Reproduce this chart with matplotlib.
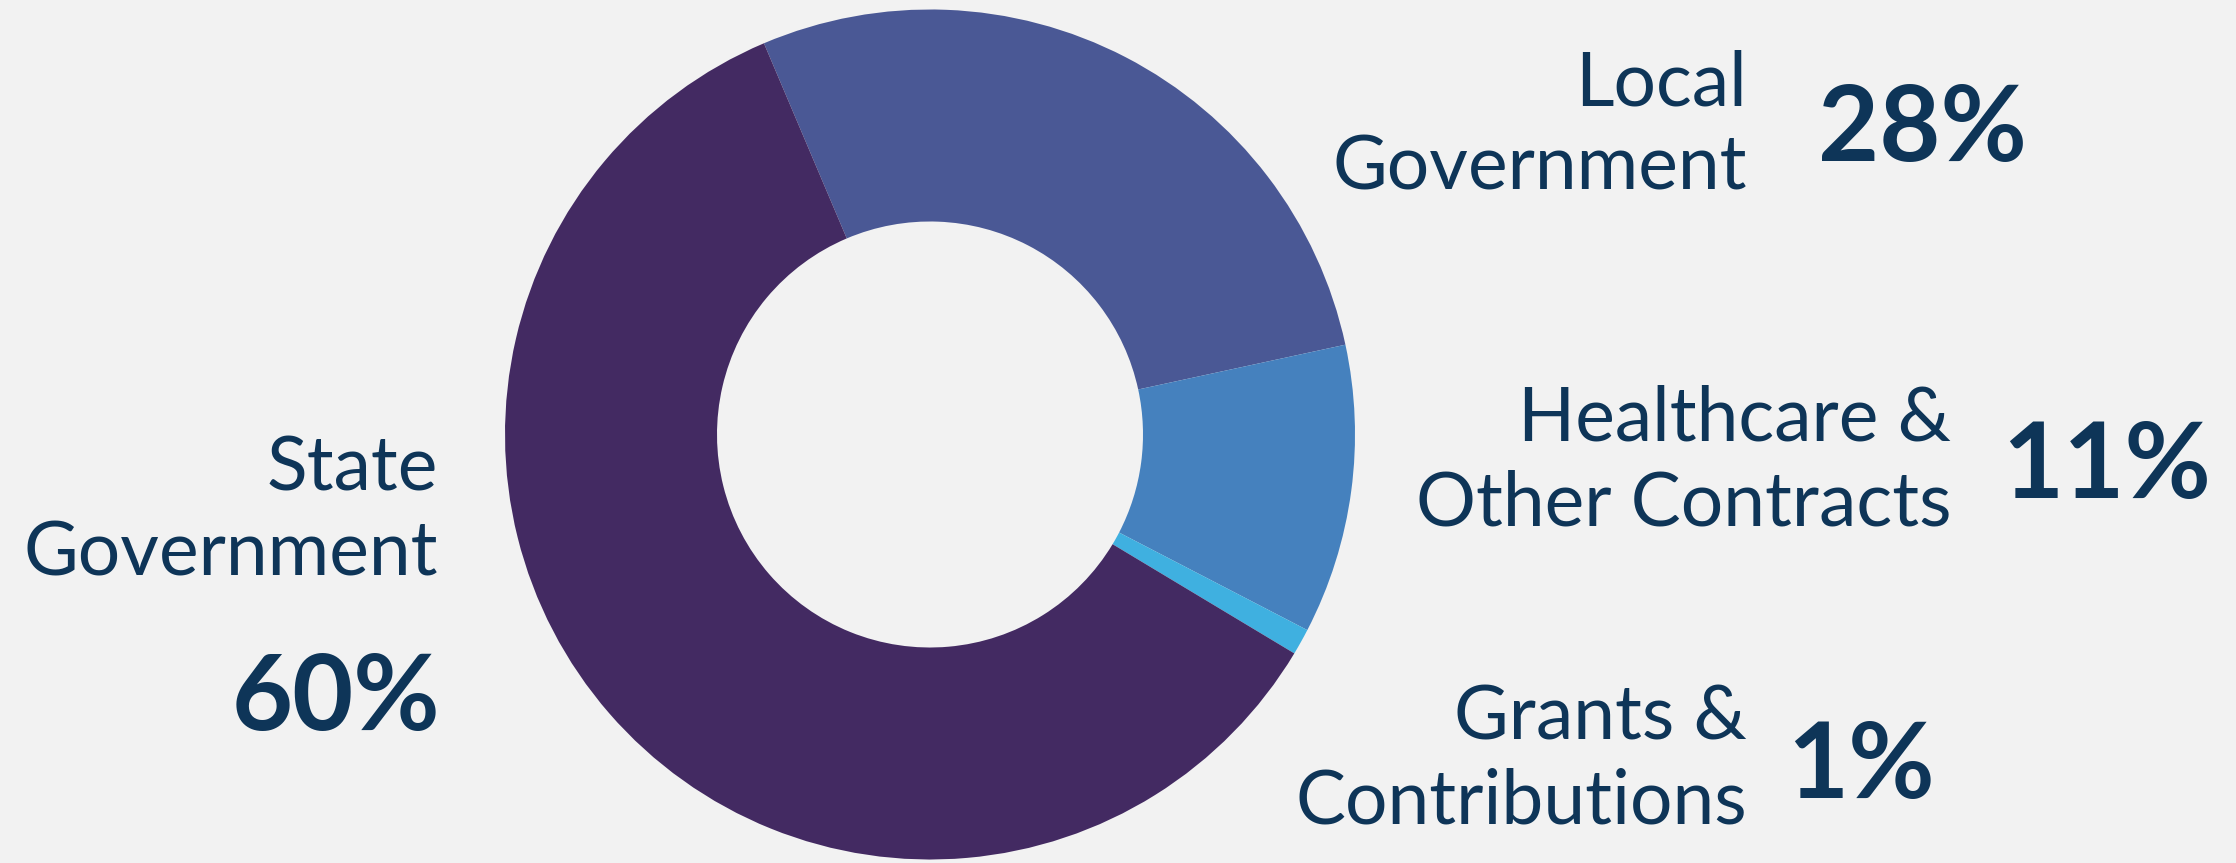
import matplotlib
matplotlib.use("Agg")
import matplotlib.pyplot as plt

# Revenue sources (percent of total)
categories = ["Local\nGovernment", "Healthcare &\nOther Contracts",
              "Grants &\nContributions", "State\nGovernment"]
shares = [28, 11, 1, 60]
pct_labels = ["28%", "11%", "1%", "60%"]
colors = ["#4A5895", "#4581BE", "#3FB0E0", "#432A62"]

BG = "#F2F2F2"
INK = "#0E3558"
W, H = 2236, 863

plt.rcParams["font.family"] = ["Lato", "DejaVu Sans"]

fig = plt.figure(figsize=(W / 100, H / 100), dpi=100, facecolor=BG)
ax = fig.add_axes([0, 0, 1, 1])
ax.set_facecolor(BG)

ax.pie(shares, colors=colors, startangle=113, counterclock=False,
       center=(930, H - 434.5), radius=425,
       wedgeprops=dict(width=212, linewidth=0))

ax.set_xlim(0, W)
ax.set_ylim(0, H)
ax.set_aspect("equal")
ax.axis("off")

# label anchor points (pixel coords from top-left): name right edge, name baseline,
# percent anchor x, percent center y, percent alignment
layout = {
    "Local\nGovernment": (1747, 190, 1818, 131, "left"),
    "Healthcare &\nOther Contracts": (1951, 525, 2002, 468, "left"),
    "Grants &\nContributions": (1747, 824, 1787, 768, "left"),
    "State\nGovernment": (438, 575, 440, 700, "right"),
}

for cat, pct in zip(categories, pct_labels):
    nx, nb, px, py, pha = layout[cat]
    ax.text(nx, H - nb, cat, ha="right", va="baseline", fontsize=54,
            color=INK, linespacing=1.27, multialignment="right")
    ax.text(px, H - py, pct, ha=pha, va="center", fontsize=76,
            fontweight="bold", color=INK)

fig.savefig("out.png", dpi=100, facecolor=BG)
